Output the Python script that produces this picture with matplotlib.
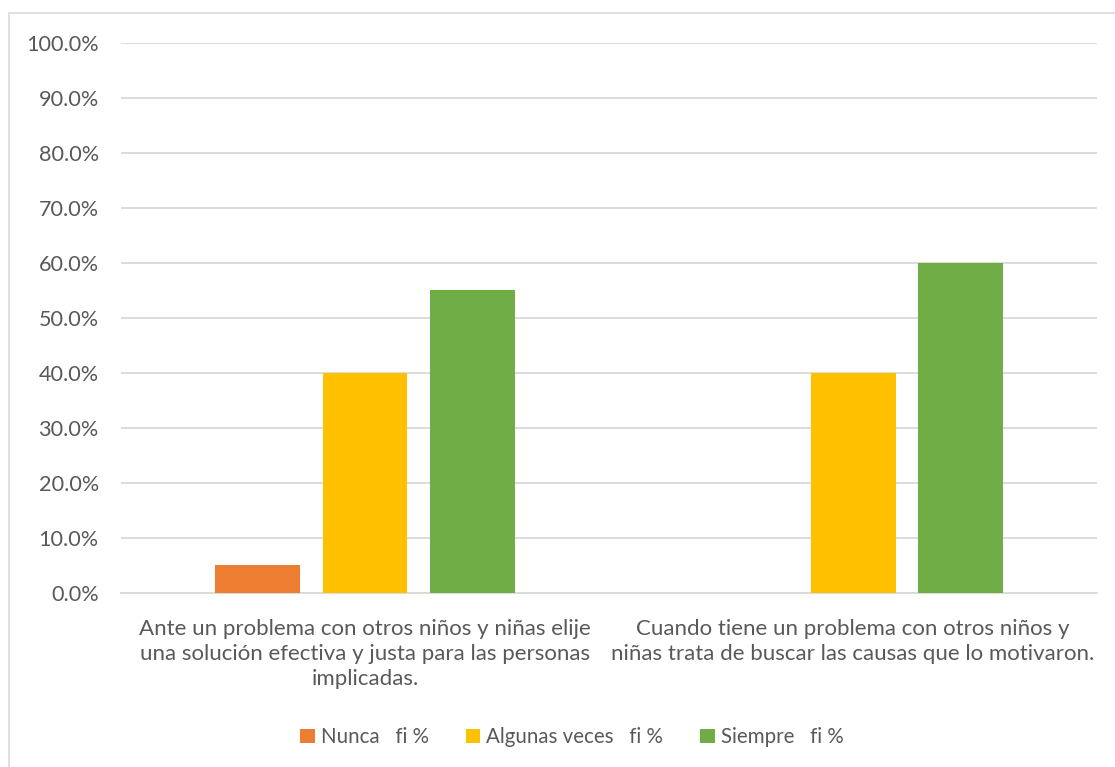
import numpy as np
import matplotlib.pyplot as plt
from matplotlib.patches import Rectangle

# Data
categories = [
    "Ante un problema con otros niños y niñas elije\nuna solución efectiva y justa para las personas\nimplicadas.",
    "Cuando tiene un problema con otros niños y\nniñas trata de buscar las causas que lo motivaron.",
]
series_names = ["Nunca   fi %", "Algunas veces   fi %", "Siempre   fi %"]
nunca = [5.0, 0.0]
algunas = [40.0, 40.0]
siempre = [55.0, 60.0]
colors = ["#ED7D31", "#FFC000", "#70AD47"]

plt.rcParams['font.family'] = ['Lato', 'DejaVu Sans']
text_color = "#595959"

fig = plt.figure(figsize=(11.15, 7.67), dpi=100)
ax = fig.add_axes([0.1085, 0.2269, 0.8755, 0.7171])

x = np.arange(len(categories))
width = 0.174
step = 0.22
for i, (vals, name, c) in enumerate(zip([nunca, algunas, siempre], series_names, colors)):
    ax.bar(x + (i - 1) * step, vals, width, color=c, label=name, zorder=3)

ax.set_xlim(-0.5, 1.5)
ax.set_ylim(0, 100)
ax.set_yticks(np.arange(0, 101, 10))
ax.set_yticklabels([f"{v:.1f}%" for v in np.arange(0, 101, 10)])
ax.yaxis.grid(True, color="#D9D9D9", linewidth=1.3, zorder=0)
ax.tick_params(axis='y', length=0, labelsize=15.6, labelcolor=text_color, pad=16)
ax.set_xticks(x)
ax.set_xticklabels(categories, fontsize=16, color=text_color, linespacing=1.3)
ax.tick_params(axis='x', length=0, pad=19)
for s in ["top", "right", "left"]:
    ax.spines[s].set_visible(False)
ax.spines["bottom"].set_color("#D9D9D9")
ax.spines["bottom"].set_linewidth(1.3)

leg = fig.legend(loc="center", bbox_to_anchor=(0.513, 0.039), ncol=3, frameon=False,
                 fontsize=14.8, handlelength=0.7, handleheight=0.7, handletextpad=0.3,
                 columnspacing=1.8)
for t in leg.get_texts():
    t.set_color(text_color)

# chart border
fig.patches.append(Rectangle((9 / 1115, -0.05), 1.2, 1 - 13 / 767 + 0.05,
                             transform=fig.transFigure, fill=False,
                             edgecolor="#D9D9D9", linewidth=1.2))

fig.savefig("out.png", dpi=100)
